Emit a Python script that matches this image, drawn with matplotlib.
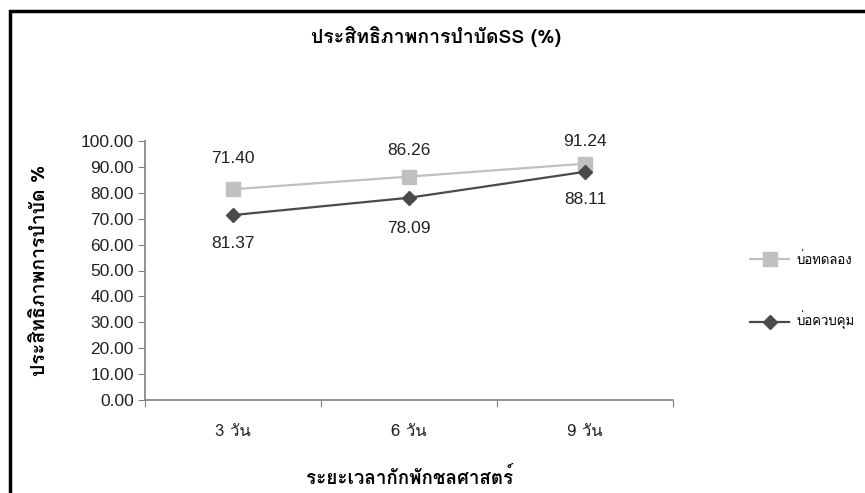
import matplotlib
matplotlib.use("Agg")
import matplotlib.pyplot as plt
from matplotlib import font_manager
from matplotlib.ft2font import FT2Font
from matplotlib.patches import Rectangle

# Series values per retention time
days = ["3 วัน", "6 วัน", "9 วัน"]
trial_pond = [81.37, 86.26, 91.24]    # บ่อทดลอง
control_pond = [71.40, 78.09, 88.11]  # บ่อควบคุม
yticks = [0, 10, 20, 30, 40, 50, 60, 70, 80, 90, 100]


# find an installed font that has Thai glyphs
def thai_family():
    for f in font_manager.fontManager.ttflist:
        try:
            cmap = FT2Font(f.fname).get_charmap()
        except Exception:
            continue
        if 0x0E1B in cmap and 0x0E34 in cmap:
            return f.name
    return "DejaVu Sans"


thai = thai_family()
plt.rcParams['font.family'] = [thai, 'Liberation Sans', 'DejaVu Sans']

fig = plt.figure(figsize=(8.65, 4.93), dpi=100)
W, H = 865, 493
ax = fig.add_axes([145 / W, 1 - 400 / H, (673 - 145) / W, (400 - 141) / H])

x = range(len(days))
ax.plot(x, trial_pond, color='#c0c0c0', marker='s', markersize=9.5, lw=1.6,
        label='บ่อทดลอง')
ax.plot(x, control_pond, color='#4a4a4a', marker='D', markersize=7.5, lw=1.6,
        label='บ่อควบคุม')

num_font = {'family': ['Liberation Sans', 'DejaVu Sans'], 'size': 12.5, 'color': '#222222'}
# value labels (first column placed the other way round)
offsets_trial = [-39, 19, 16]
offsets_ctrl = [41, -22, -20]
for i in x:
    ax.annotate(f"{trial_pond[i]:.2f}", (i, trial_pond[i]), xytext=(0, offsets_trial[i]),
                textcoords='offset points', ha='center', va='center', **num_font)
    ax.annotate(f"{control_pond[i]:.2f}", (i, control_pond[i]), xytext=(0, offsets_ctrl[i]),
                textcoords='offset points', ha='center', va='center', **num_font)

ax.set_xlim(-0.5, 2.5)
ax.set_ylim(0, 100)
ax.set_yticks(yticks)
ax.set_yticklabels([f"{v:.2f}" for v in yticks], **num_font)
ax.set_xticks([-0.5, 0.5, 1.5, 2.5])
ax.set_xticklabels([])
ax.set_xticks(list(x), minor=True)
ax.set_xticklabels(days, minor=True, fontsize=12, color='#222222')
ax.tick_params(axis='x', which='minor', length=0, pad=17)
ax.tick_params(axis='x', which='major', length=5, direction='out', color='#808080')
ax.tick_params(axis='y', length=5, direction='out', color='#808080', pad=3)
for s in ['top', 'right']:
    ax.spines[s].set_visible(False)
for s in ['left', 'bottom']:
    ax.spines[s].set_color('#808080')
    ax.spines[s].set_linewidth(1.2)

fig.text(436 / W, 1 - 37 / H, 'ประสิทธิภาพการบำบัดSS (%)', ha='center', va='center',
         fontsize=14, fontweight='bold')
fig.text(40 / W, 1 - 270 / H, 'ประสิทธิภาพการบำบัด %', ha='center', va='center',
         rotation=90, fontsize=14, fontweight='bold')
fig.text(410 / W, 1 - 478 / H, 'ระยะเวลากักพักชลศาสตร์', ha='center', va='center',
         fontsize=13.5, fontweight='bold')

fig.legend(loc='center left', bbox_to_anchor=(738 / W, 1 - 291 / H), frameon=False,
           fontsize=9.5, labelspacing=3.4, handlelength=3.0, handletextpad=0.5)

# outer frame
fig.patches.append(Rectangle((10 / W, -0.05), 1.1, 1 - 11 / H + 0.05, transform=fig.transFigure,
                             fill=False, edgecolor='black', linewidth=2.5, clip_on=False))

fig.savefig('out.png', dpi=100)
